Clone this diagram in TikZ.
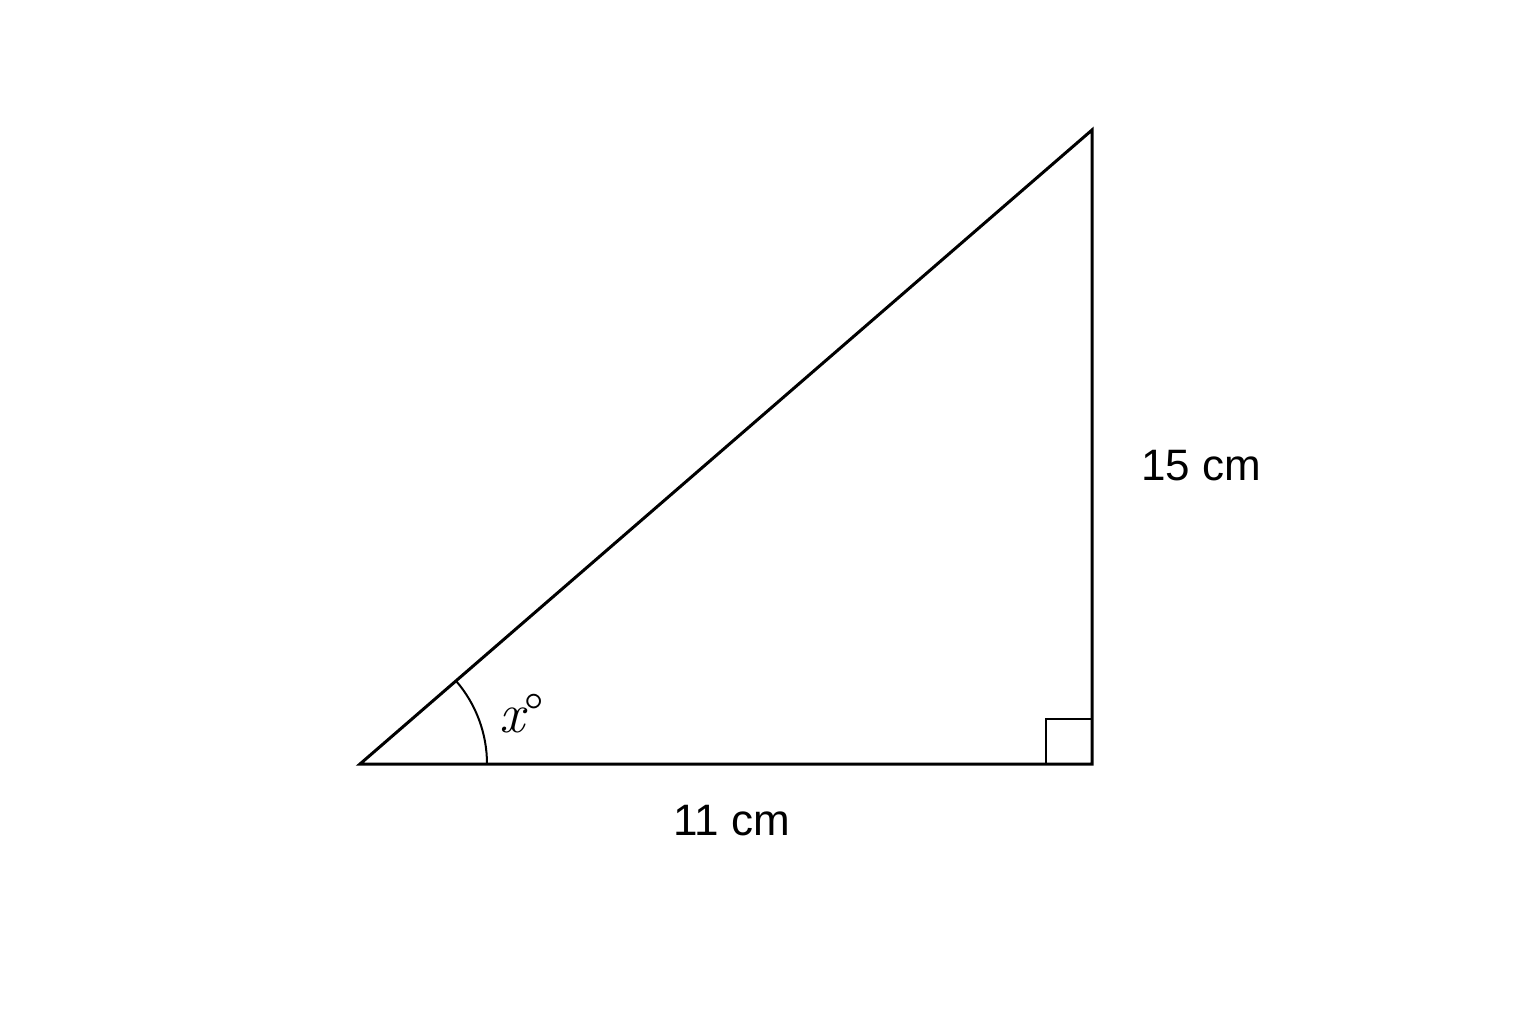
\documentclass[tikz,border=0pt]{standalone}
\usepackage{fontspec}
\setsansfont{Liberation Sans}
\begin{document}
\begin{tikzpicture}[x=1pt,y=-1pt,
  side/.style={line width=3pt, line join=miter},
  thin/.style={line width=2pt},
  lbl/.style={font=\sffamily\fontsize{44}{50}\selectfont, anchor=base, inner sep=0pt}]
\useasboundingbox (0,0) rectangle (1536,1024);
\fill[white] (0,0) rectangle (1536,1024);
\coordinate (A) at (360,764);
\coordinate (B) at (1092,764);
\coordinate (C) at (1092,130);
\draw[side] (A) -- (B) -- (C) -- cycle;
\draw[thin] (1046,764) -- (1046,719) -- (1092,719);
\draw[thin] ([xshift=127pt]A) arc[start angle=0, end angle=-40.9, radius=127];
\node[anchor=base, inner sep=0pt, font=\fontsize{56}{60}\selectfont] (ang) at (522,732) {\itshape x\upshape °};
\node[lbl] (h) at (1201,480) {15 cm};
\node[lbl] (b) at (732,835) {11 cm};
\end{tikzpicture}
\end{document}
